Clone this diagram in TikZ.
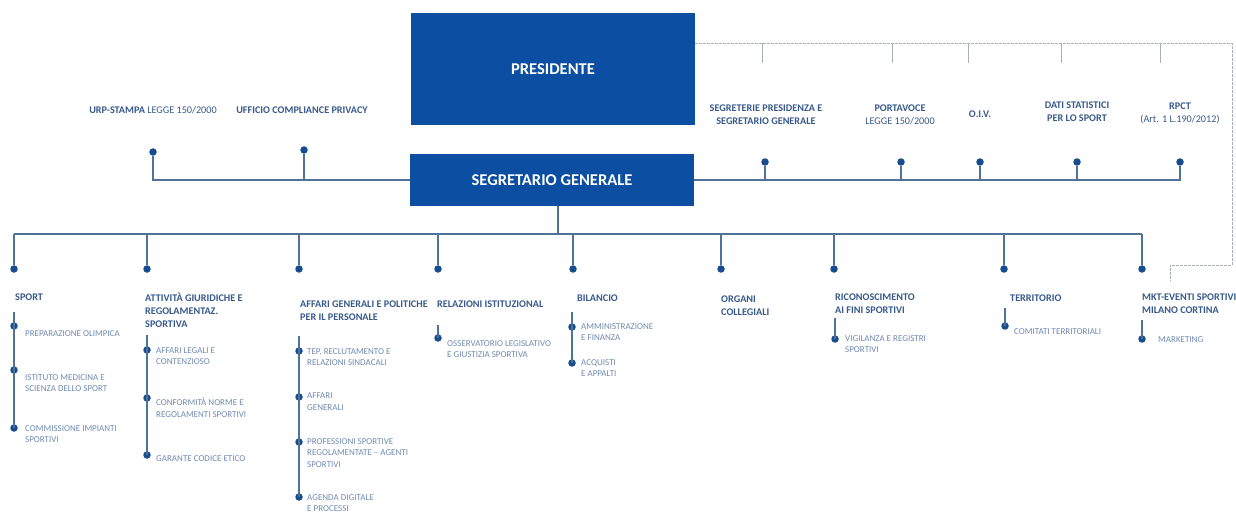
\documentclass[tikz,border=0pt]{standalone}
\usepackage{fontspec}
\setmainfont{Carlito}
\usetikzlibrary{positioning}
\definecolor{boxblue}{HTML}{0B4EA2}
\definecolor{lineblue}{HTML}{4F7398}
\definecolor{dotblue}{HTML}{174D8D}
\definecolor{headtext}{HTML}{37598B}
\definecolor{subtext}{HTML}{6F8AB0}
\definecolor{dashgrey}{HTML}{A9AFB7}
\begin{document}
\begin{tikzpicture}[x=1pt,y=-1pt]
	\tikzstyle{mybox}=[fill=boxblue,text=white,font=\fontsize{16.5}{18}\bfseries\selectfont,inner sep=0pt]
	\tikzstyle{myline}=[lineblue,line width=1.2pt]
	\tikzstyle{mydot}=[circle,fill=dotblue,inner sep=0pt,minimum size=7.5pt]
	\tikzstyle{myhead}=[headtext,font=\fontsize{10.2}{13}\bfseries\selectfont,align=left,anchor=north west,inner sep=0pt]
	\tikzstyle{mytop}=[headtext,font=\fontsize{10.2}{13}\bfseries\selectfont,align=center,inner sep=0pt]
	\tikzstyle{mysub}=[subtext,font=\fontsize{9}{11.5}\selectfont,align=left,anchor=north west,inner sep=0pt]
	\tikzstyle{mydash}=[dashgrey,line width=0.8pt,dash pattern=on 2.5pt off 1.5pt]

	\useasboundingbox (0,0) rectangle (1236,513);

	\node[mybox,minimum width=284pt,minimum height=112pt] (pres) at (553,69) {PRESIDENTE};
	\node[mybox,minimum width=284pt,minimum height=51pt] (sg) at (552,180) {SEGRETARIO GENERALE};

	% dashed link from the president
	\coordinate (dcorner) at (1232,43);
	\coordinate (dbend) at (1232,265);
	\coordinate (dend) at (1170,281);
	\draw[mydash] (pres.east |- dcorner) -- (dcorner) -- (dbend) -| (dend);
	\foreach \x in {762,892,968,1061,1160} {\draw[dashgrey,line width=0.6pt] (\x,43) -- (\x,63);}

	% staff offices
	\node[mydot] (urp) at (153,152) {};
	\node[mydot] (ucp) at (304,150) {};
	\draw[myline] (sg.west) -| (urp);
	\draw[myline] (ucp) -- (ucp |- sg.west);
	\foreach \n/\x in {seg/765,port/901,oiv/980,dati/1077,rpct/1180} {\node[mydot] (\n) at (\x,162) {};}
	\draw[myline] (sg.east) -| (rpct);
	\foreach \n in {seg,port,oiv,dati} {\draw[myline] (\n) -- (\n |- sg.east);}

	\node[mytop] (lurp) at (153,110) {URP-STAMPA {\mdseries LEGGE 150/2000}};
	\node[mytop] (lucp) at (302,110) {UFFICIO COMPLIANCE PRIVACY};
	\node[mytop] (lseg) at (766,114.5) {SEGRETERIE PRESIDENZA E\\SEGRETARIO GENERALE};
	\node[mytop] (lport) at (900,114.5) {PORTAVOCE\\{\mdseries LEGGE 150/2000}};
	\node[mytop] (loiv) at (980,114) {O.I.V.};
	\node[mytop] (ldati) at (1077,112) {DATI STATISTICI\\PER LO SPORT};
	\node[mytop] (lrpct) at (1180,113.5) {RPCT\\{\mdseries (Art. 1 L.190/2012)}};

	% directorates
	\coordinate (bus) at (558,234);
	\draw[myline] (bus |- sg.south) -- (bus);
	\foreach \n/\x in {1/14,2/147,3/299,4/438,5/573,6/721,7/834,8/1004,9/1142} {
		\coordinate (b\n) at (\x,234);
		\node[mydot] (c\n) at (\x,269) {};
		\draw[myline] (b\n) -- (c\n);
	}
	\draw[myline] (b1) -- (b9);

	\node[myhead] (h1) at (15,294) {SPORT};
	\node[myhead] (h2) at (145,293) {ATTIVITÀ GIURIDICHE E\\REGOLAMENTAZ.\\SPORTIVA};
	\node[myhead] (h3) at (300,301) {AFFARI GENERALI E POLITICHE\\PER IL PERSONALE};
	\node[myhead] (h4) at (437,301) {RELAZIONI ISTITUZIONAL};
	\node[myhead] (h5) at (577,295) {BILANCIO};
	\node[myhead] (h6) at (721,296) {ORGANI\\COLLEGIALI};
	\node[myhead] (h7) at (835,294) {RICONOSCIMENTO\\AI FINI SPORTIVI};
	\node[myhead] (h8) at (1010,295) {TERRITORIO};
	\node[myhead] (h9) at (1142,294) {MKT-EVENTI SPORTIVI\\MILANO CORTINA};

	% offices
	\coordinate (t1) at (14,312);
	\foreach \m/\y/\ly/\txt in {1/326/330/PREPARAZIONE OLIMPICA,2/370/374/{ISTITUTO MEDICINA E\\SCIENZA DELLO SPORT},3/428/425/{COMMISSIONE IMPIANTI\\SPORTIVI}} {
		\node[mydot] (d1\m) at (14,\y) {};
		\node[mysub] (s1\m) at (25,\ly) {\txt};
	}
	\draw[myline] (t1) -- (d13.center);

	\coordinate (t2) at (147,335);
	\foreach \m/\y/\ly/\txt in {1/350/347/{AFFARI LEGALI E\\CONTENZIOSO},2/398/398/{CONFORMITÀ NORME E\\REGOLAMENTI SPORTIVI},3/455/455/GARANTE CODICE ETICO} {
		\node[mydot] (d2\m) at (147,\y) {};
		\node[mysub] (s2\m) at (156,\ly) {\txt};
	}
	\draw[myline] (t2) -- (d23.center);

	\coordinate (t3) at (299,336);
	\foreach \m/\y/\ly/\txt in {1/351/348/{TEP. RECLUTAMENTO E\\RELAZIONI SINDACALI},2/397/393/{AFFARI\\GENERALI},3/442/438/{PROFESSIONI SPORTIVE\\REGOLAMENTATE – AGENTI\\SPORTIVI},4/497/494/{AGENDA DIGITALE\\E PROCESSI}} {
		\node[mydot] (d3\m) at (299,\y) {};
		\node[mysub] (s3\m) at (307,\ly) {\txt};
	}
	\draw[myline] (t3) -- (d34.center);

	\coordinate (t4) at (438,325);
	\node[mydot] (d41) at (438,338) {};
	\node[mysub] (s41) at (447,340) {OSSERVATORIO LEGISLATIVO\\E GIUSTIZIA SPORTIVA};
	\draw[myline] (t4) -- (d41.center);

	\coordinate (t5) at (572,312);
	\foreach \m/\y/\ly/\txt in {1/327/323/{AMMINISTRAZIONE\\E FINANZA},2/363/359/{ACQUISTI\\E APPALTI}} {
		\node[mydot] (d5\m) at (572,\y) {};
		\node[mysub] (s5\m) at (581,\ly) {\txt};
	}
	\draw[myline] (t5) -- (d52.center);

	\coordinate (t7) at (835,318);
	\node[mydot] (d71) at (835,339) {};
	\node[mysub] (s71) at (845,335) {VIGILANZA E REGISTRI\\SPORTIVI};
	\draw[myline] (t7) -- (d71.center);

	\coordinate (t8) at (1005,308);
	\node[mydot] (d81) at (1005,326) {};
	\node[mysub] (s81) at (1014,328) {COMITATI TERRITORIALI};
	\draw[myline] (t8) -- (d81.center);

	\coordinate (t9) at (1142,320);
	\node[mydot] (d91) at (1142,339) {};
	\node[mysub] (s91) at (1158,336) {MARKETING};
	\draw[myline] (t9) -- (d91.center);
\end{tikzpicture}
\end{document}
